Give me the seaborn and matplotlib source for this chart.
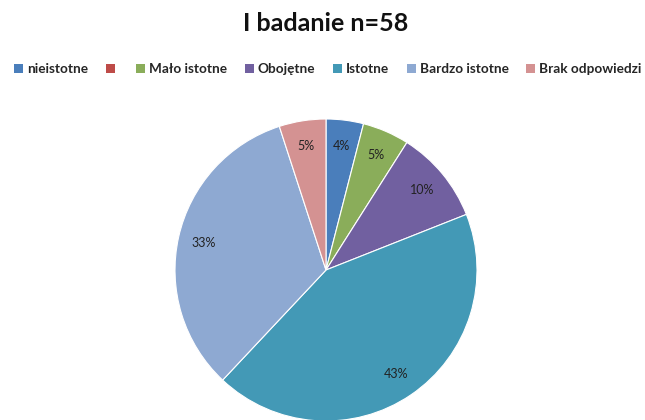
import matplotlib
matplotlib.use("Agg")
import matplotlib.pyplot as plt
from matplotlib.patches import Patch
import seaborn as sns

# dane z wykresu (procenty)
categories = ["nieistotne", "", "Mało istotne", "Obojętne", "Istotne", "Bardzo istotne", "Brak odpowiedzi"]
values = [4, 0, 5, 10, 43, 33, 5]
colors = ["#4a7ebb", "#be4b48", "#8aad5a", "#7160a0", "#4399b6", "#8ea9d2", "#d49292"]

sns.set_theme(style="white")
plt.rcParams["font.family"] = ["Lato", "DejaVu Sans"]
palette = sns.color_palette(colors)

fig = plt.figure(figsize=(6.45, 4.2), dpi=100)

# oś kołowa - środek ok. (326, 270) px, promień ok. 151 px
r_px = 151
cx, cy = 326, 270
ax = fig.add_axes([(cx - r_px) / 645, (420 - cy - r_px) / 420, 2 * r_px / 645, 2 * r_px / 420])

vals = [v for v in values if v > 0]
cols = [palette[i] for i, v in enumerate(values) if v > 0]

wedges, texts, autotexts = ax.pie(
    vals,
    colors=cols,
    startangle=90,
    counterclock=False,
    autopct=lambda p: f"{p:.0f}%",
    pctdistance=0.83,
    wedgeprops=dict(edgecolor="white", linewidth=0.8),
    textprops=dict(fontsize=9, color="#222222"),
)
ax.set_aspect("equal")
ax.set_xlim(-1, 1)
ax.set_ylim(-1, 1)

# tytuł
fig.text(0.505, 0.945, "I badanie n=58", ha="center", va="center",
         fontsize=18, fontweight="bold", color="#111111")

# legenda
handles = [Patch(facecolor=palette[i], edgecolor="none") for i in range(len(categories))]
fig.legend(handles, categories, loc="center left", bbox_to_anchor=(0.003, 0.835),
           ncol=len(categories), frameon=False,
           prop=dict(size=9.8, weight="bold"),
           handlelength=0.65, handleheight=0.65, handletextpad=0.3, columnspacing=1.3)

fig.savefig("out.png", dpi=100)
